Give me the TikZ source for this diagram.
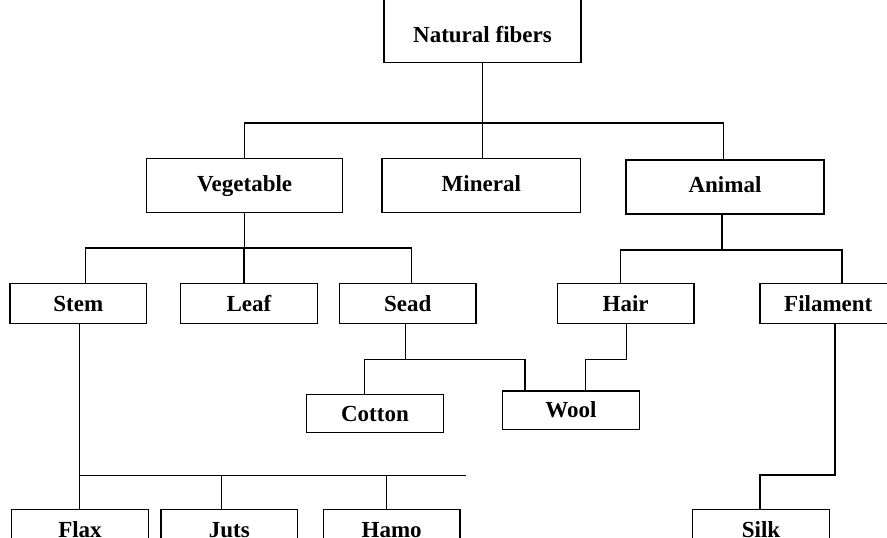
\documentclass[tikz,border=0pt]{standalone}
\usepackage{fontspec}
\setmainfont{Liberation Serif}
\begin{document}
\begin{tikzpicture}[x=1pt,y=-1pt,
  box/.style={draw,line width=1.2pt,inner sep=0pt,
    font=\fontsize{23}{25}\selectfont\bfseries,text height=15.5pt,text depth=0pt},
  big/.style={box,minimum width=197pt,minimum height=54pt},
  small/.style={box,minimum width=136.7pt,minimum height=40pt},
  conn/.style={line width=1.2pt}]
\fill[white] (0,0) rectangle (887,538);
\useasboundingbox (0,0) rectangle (887,538);

% top
\node[big,minimum height=66.7pt,text height=26pt] (nf) at (482.5,29.35) {Natural fibers};
% level 1
\node[big,minimum width=196pt,text height=11.5pt] (veg) at (244.7,185.3) {Vegetable};
\node[big,minimum width=198.5pt,text height=11.5pt] (min) at (481.3,185.3) {Mineral};
\node[big,minimum width=198pt,text height=11.5pt] (ani) at (725,187) {Animal};
% level 2
\node[small] (stem) at (78.3,303.3) {Stem};
\node[small] (leaf) at (249,303.3) {Leaf};
\node[small] (sead) at (407.7,303.3) {Sead};
\node[small] (hair) at (625.7,303.3) {Hair};
\node[small] (fil) at (828.3,303.3) {Filament};
% level 3
\node[small,minimum height=38.4pt] (cot) at (375,413.5) {Cotton};
\node[small,minimum height=38.3pt] (wool) at (571,410.2) {Wool};
% bottom
\node[small] (flax) at (80,529.3) {Flax};
\node[small] (juts) at (229.3,529.3) {Juts};
\node[small] (hamo) at (391.7,529.3) {Hamo};
\node[small] (silk) at (761,529.3) {Silk};

% bar levels
\coordinate (b1) at (0,123);
\coordinate (b2) at (0,248);
\coordinate (b3) at (0,250);
\coordinate (b4) at (0,359.3);
\coordinate (b5) at (0,475.7);
\coordinate (stemend) at (465.7,475.7);

% natural fibers -> level 1
\draw[conn] (nf.south) -- (nf.south |- min.north);
\draw[conn] (veg.north) |- ([xshift=-1.5pt]ani.north |- b1) -- ([xshift=-1.5pt]ani.north);

% vegetable -> stem, leaf, sead
\draw[conn] (veg.south) -- (veg.south |- b2);
\draw[conn] ([xshift=7pt]stem.north) |- ([xshift=4pt]sead.north |- b2) -- ([xshift=4pt]sead.north);
\draw[conn] ([xshift=-5pt]leaf.north) -- ([xshift=-5pt]leaf.north |- b2);

% animal -> hair, filament
\draw[conn] ([xshift=-3pt]ani.south) -- ([xshift=-3pt]ani.south |- b3);
\draw[conn] ([xshift=-5pt]hair.north) |- ([xshift=13.7pt]fil.north |- b3) -- ([xshift=13.7pt]fil.north);

% sead -> cotton, wool
\draw[conn] ([xshift=-2pt]sead.south) -- ([xshift=-2pt]sead.south |- b4);
\draw[conn] ([xshift=-10.3pt]cot.north) |- ([xshift=-46pt]wool.north |- b4) -- ([xshift=-46pt]wool.north);

% hair -> wool
\draw[conn] ([xshift=1pt]hair.south) |- ([xshift=14.7pt]wool.north |- b4) -- ([xshift=14.7pt]wool.north);

% stem -> flax, juts, hamo
\draw[conn] ([xshift=1pt]stem.south) |- (stemend);
\draw[conn] ([xshift=1pt]stem.south |- b5) -- ([xshift=-0.7pt]flax.north);
\draw[conn] ([xshift=-7.6pt]juts.north) -- ([xshift=-7.6pt]juts.north |- b5);
\draw[conn] ([xshift=-5pt]hamo.north) -- ([xshift=-5pt]hamo.north |- b5);

% filament -> silk
\draw[conn] ([xshift=6.7pt]fil.south) |- ([xshift=-1pt]silk.north |- 0,475) -- ([xshift=-1pt]silk.north);
\end{tikzpicture}
\end{document}
